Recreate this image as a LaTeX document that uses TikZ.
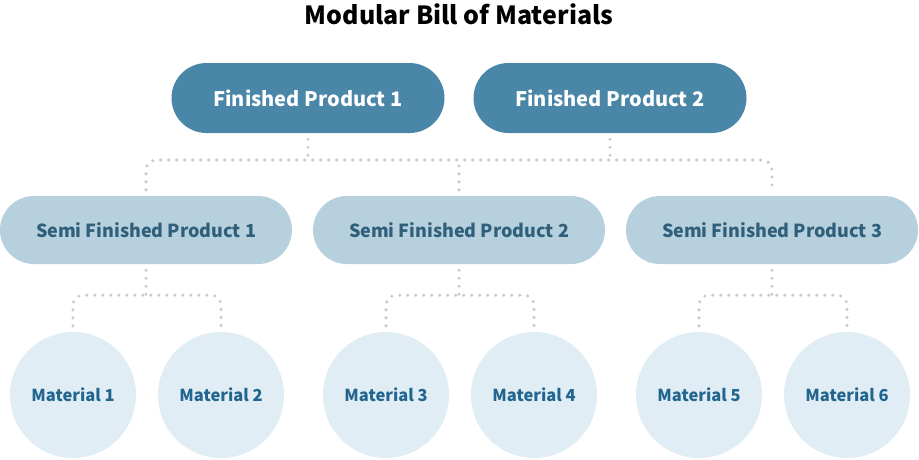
\documentclass[tikz,border=0pt]{standalone}
\usepackage{fontspec}
\setmainfont{Noto Sans CJK KR}
\usetikzlibrary{positioning}

\definecolor{fpblue}{HTML}{4A86A8}
\definecolor{sfpblue}{HTML}{B6D0DD}
\definecolor{sfptext}{HTML}{2F5F7A}
\definecolor{matblue}{HTML}{E0EDF5}
\definecolor{mattext}{HTML}{22658E}
\definecolor{linkgray}{HTML}{C9C9C9}

\begin{document}
\begin{tikzpicture}[x=1pt,y=-1pt,
  fp/.style={draw=none,fill=fpblue,text=white,rounded corners=35pt,minimum width=273pt,minimum height=70pt,font=\bfseries\fontsize{20}{24}\selectfont},
  sfp/.style={draw=none,fill=sfpblue,text=sfptext,rounded corners=34pt,minimum width=292pt,minimum height=68pt,font=\bfseries\fontsize{18}{21}\selectfont},
  mat/.style={circle,draw=none,fill=matblue,text=mattext,minimum size=126pt,font=\bfseries\fontsize{16.5}{19}\selectfont},
  link/.style={draw=linkgray,line width=3.4pt,line cap=round,dash pattern=on 0pt off 8pt,rounded corners=10pt}]
\useasboundingbox (0,0) rectangle (919,459);

\node (title) at (459,14) {\bfseries\fontsize{25}{30}\selectfont Modular Bill of Materials};

\node[fp] (fp1) at (308,98) {Finished Product 1};
\node[fp] (fp2) at (610,98) {Finished Product 2};

\node[sfp] (sfp1) at (146,230) {Semi Finished Product 1};
\node[sfp] (sfp2) at (459,230) {Semi Finished Product 2};
\node[sfp] (sfp3) at (772,230) {Semi Finished Product 3};

\node[mat] (m1) at (73,395) {Material 1};
\node[mat] (m2) at (221,395) {Material 2};
\node[mat] (m3) at (386,395) {Material 3};
\node[mat] (m4) at (534,395) {Material 4};
\node[mat] (m5) at (699,395) {Material 5};
\node[mat] (m6) at (847,395) {Material 6};

% bus between the two levels
\coordinate (bus) at (459,160);
\draw[link,shorten <=6pt,shorten >=6pt] (sfp1.north) |- (bus) -| (sfp3.north);
\draw[link,shorten <=6pt] (fp1.south) -- (fp1.south |- bus);
\draw[link,shorten <=6pt] (fp2.south) -- (fp2.south |- bus);
\draw[link,shorten <=6pt] (sfp2.north) -- (sfp2.north |- bus);

% semi finished products to materials
\draw[link,shorten <=6pt] (sfp1.south) -- ++(0,31) coordinate (b1);
\draw[link,shorten <=6pt,shorten >=6pt] (m1.north) |- (b1) -| (m2.north);
\draw[link,shorten <=6pt] (sfp2.south) -- ++(0,31) coordinate (b2);
\draw[link,shorten <=6pt,shorten >=6pt] (m3.north) |- (b2) -| (m4.north);
\draw[link,shorten <=6pt] (sfp3.south) -- ++(0,31) coordinate (b3);
\draw[link,shorten <=6pt,shorten >=6pt] (m5.north) |- (b3) -| (m6.north);
\end{tikzpicture}
\end{document}
